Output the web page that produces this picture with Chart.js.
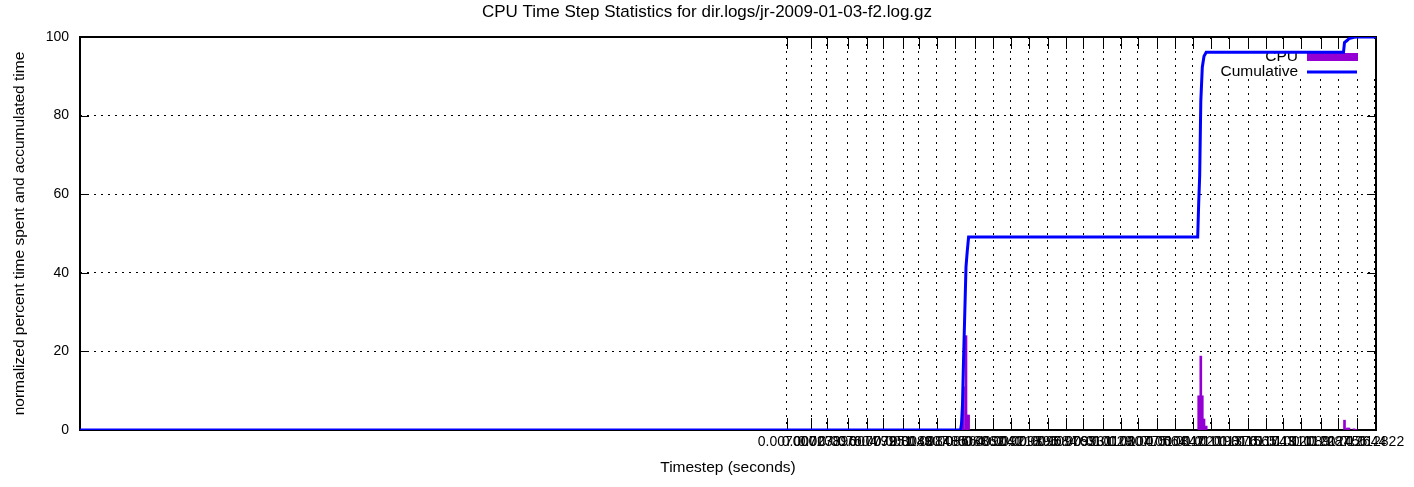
<!DOCTYPE html>
<html>
<head>
<meta charset="utf-8">
<title>CPU Time Step Statistics</title>
<script src="https://cdn.jsdelivr.net/npm/chart.js@4.4.1/dist/chart.umd.min.js"></script>
<style>
  html, body { margin: 0; padding: 0; background: #fff; }
  canvas { display: block; }
</style>
</head>
<body>
<canvas id="myChart" width="1414" height="487"></canvas>
<script>
// x range of the plot, seconds
const xMin = 0;
const xMax = 0.012832;

// timestep tics
const tickValues = [
  0.007000, 0.007238, 0.007396, 0.007604, 0.007792, 0.007951, 0.008149, 0.008307,
  0.008485, 0.008664, 0.008862, 0.009040, 0.009218, 0.009396, 0.009584, 0.009763,
  0.009931, 0.010129, 0.010307, 0.010475, 0.010664, 0.010842, 0.011020, 0.011198,
  0.011376, 0.011565, 0.011743, 0.011911, 0.012089, 0.012287, 0.012456, 0.012644,
  0.012822
];
const tickLabels = [
  "0.007000", "0.007238", "0.007396", "0.007604", "0.007792", "0.007951", "0.008149", "0.008307",
  "0.008485", "0.008664", "0.008862", "0.009040", "0.009218", "0.009396", "0.009584", "0.009763",
  "0.009931", "0.010129", "0.010307", "0.010475", "0.010664", "0.010842", "0.011020", "0.011198",
  "0.011376", "0.011565", "0.011743", "0.011911", "0.012089", "0.012287", "0.012456", "0.012644",
  "0.012822"
];
const yTicks = [0, 20, 40, 60, 80, 100];

// CPU time spent per timestep (percent)
const cpuSteps = [
  0.00872794, 0.00873784, 0.00874774, 0.00877249, 0.00878437, 0.00879823,
  0.01107651, 0.01108641, 0.01109730, 0.01111215, 0.01112899, 0.01115077,
  0.01252011, 0.01254486, 0.01256467, 0.01261417, 0.01263398
];
const cpuPercent = [
  1.5, 5.0, 11.0, 24.0, 3.8, 3.8,
  8.7, 7.0, 18.8, 8.7, 2.8, 1.0,
  2.5, 0.5, 0.5, 0.3, 0.1
];

// accumulated time (percent)
const cumSteps = [
  0, 0.00871804, 0.00872794, 0.00873784, 0.00874774, 0.00877249, 0.00878437, 0.00879823,
  0.01106661, 0.01107651, 0.01108641, 0.01109730, 0.01111215, 0.01112899, 0.01115077,
  0.01251021, 0.01252011, 0.01254486, 0.01256467, 0.01261417, 0.01263398, 0.012832
];
const cumPercent = [
  0, 0, 1.5, 6.5, 17.5, 41.5, 45.3, 49.1,
  49.1, 57.8, 64.8, 83.6, 92.3, 95.1, 96.1,
  96.1, 98.6, 99.1, 99.6, 99.9, 100, 100
];

const FONT = "'Liberation Sans', Arial, sans-serif";
const CPU_COLOR = "#9400d3";
const CUM_COLOR = "#0000ff";

// key box, inner tics and frame, drawn under the data like gnuplot does
const gnuplotFrame = {
  id: "gnuplotFrame",
  beforeDatasetsDraw(chart) {
    const { ctx, chartArea: a, scales } = chart;
    const x = scales.x, y = scales.y;
    ctx.save();

    // opaque key
    ctx.fillStyle = "#fff";
    ctx.fillRect(a.right - 173, a.top + 6, 172, 36);
    ctx.font = "15.5px " + FONT;
    ctx.fillStyle = "#000";
    ctx.textAlign = "right";
    ctx.textBaseline = "middle";
    ctx.fillText(chart.data.datasets[1].label, a.right - 78, a.top + 20);
    ctx.fillText(chart.data.datasets[0].label, a.right - 78, a.top + 35);
    ctx.fillStyle = CPU_COLOR;
    ctx.fillRect(a.right - 69, a.top + 16, 51, 8);
    ctx.strokeStyle = CUM_COLOR;
    ctx.lineWidth = 3;
    ctx.beginPath();
    ctx.moveTo(a.right - 69, a.top + 35);
    ctx.lineTo(a.right - 19, a.top + 35);
    ctx.stroke();

    // tics on all four sides
    ctx.strokeStyle = "#000";
    ctx.lineWidth = 1;
    ctx.beginPath();
    tickValues.forEach(v => {
      const px = Math.round(x.getPixelForValue(v)) + 0.5;
      ctx.moveTo(px, a.bottom); ctx.lineTo(px, a.bottom - 12);
      ctx.moveTo(px, a.top); ctx.lineTo(px, a.top + 12);
    });
    yTicks.forEach(v => {
      const py = Math.round(y.getPixelForValue(v)) + 0.5;
      ctx.moveTo(a.left, py); ctx.lineTo(a.left + 9, py);
      ctx.moveTo(a.right, py); ctx.lineTo(a.right - 9, py);
    });
    ctx.stroke();

    // border
    ctx.lineWidth = 2;
    ctx.strokeRect(a.left, a.top, a.right - a.left, a.bottom - a.top);
    ctx.restore();
  }
};

const ctx = document.getElementById("myChart").getContext("2d");
const myChart = new Chart(ctx, {
  type: "bar",
  data: {
    datasets: [
      {
        type: "line",
        label: "Cumulative",
        data: cumSteps.map((t, i) => ({ x: t, y: cumPercent[i] })),
        borderColor: CUM_COLOR,
        borderWidth: 3,
        pointRadius: 0,
        fill: false,
        tension: 0,
      },
      {
        type: "bar",
        label: "CPU",
        data: cpuSteps.map((t, i) => ({ x: t, y: cpuPercent[i] })),
        backgroundColor: CPU_COLOR,
        borderWidth: 0,
        barThickness: 2,
      },
    ],
  },
  options: {
    responsive: false,
    animation: false,
    devicePixelRatio: 1,
    layout: { padding: 0 },
    plugins: {
      legend: { display: false },
      tooltip: { enabled: false },
      title: {
        display: true,
        text: "CPU Time Step Statistics for dir.logs/jr-2009-01-03-f2.log.gz",
        color: "#000",
        font: { family: FONT, size: 17, weight: "normal", lineHeight: 1.2 },
        padding: { top: 2.3, bottom: 14.3 },
      },
    },
    scales: {
      x: {
        type: "linear",
        min: xMin,
        max: xMax,
        offset: false,
        afterBuildTicks: (scale) => {
          scale.ticks = tickValues.map(v => ({ value: v }));
        },
        afterFit: (scale) => {
          scale.height = 57;
          scale.paddingLeft = 0;
          scale.paddingRight = 0;
        },
        grid: { color: "#000", lineWidth: 1, drawTicks: false, offset: false },
        border: { display: false, dash: [2, 5] },
        ticks: {
          autoSkip: false,
          maxRotation: 0,
          minRotation: 0,
          padding: 4,
          color: "#000",
          font: { family: FONT, size: 14 },
          callback: (value, index) => tickLabels[index],
        },
        title: {
          display: true,
          text: "Timestep (seconds)",
          color: "#000",
          font: { family: FONT, size: 15.5 },
          padding: { top: 0, bottom: 9.7 },
        },
      },
      y: {
        min: 0,
        max: 100,
        afterBuildTicks: (scale) => {
          scale.ticks = yTicks.map(v => ({ value: v }));
        },
        afterFit: (scale) => {
          scale.width = 80;
          scale.paddingTop = 0;
          scale.paddingBottom = 0;
        },
        grid: {
          color: (c) => (c.tick && (c.tick.value === 0 || c.tick.value === 100)) ? "rgba(0,0,0,0)" : "#000",
          lineWidth: 1,
          drawTicks: false,
        },
        border: { display: false, dash: [2, 5] },
        ticks: {
          padding: 11,
          color: "#000",
          font: { family: FONT, size: 14 },
        },
        title: {
          display: true,
          text: "normalized percent time spent and accumulated time",
          color: "#000",
          font: { family: FONT, size: 15.5 },
          padding: { top: 10.7, bottom: 0 },
        },
      },
      // empty right margin, keeps the title centred on the whole canvas
      y2: {
        position: "right",
        display: true,
        afterFit: (scale) => {
          scale.width = 38;
          scale.paddingTop = 0;
          scale.paddingBottom = 0;
        },
        grid: { display: false },
        border: { display: false },
        ticks: { display: false },
      },
    },
  },
  plugins: [gnuplotFrame],
});
</script>
</body>
</html>
